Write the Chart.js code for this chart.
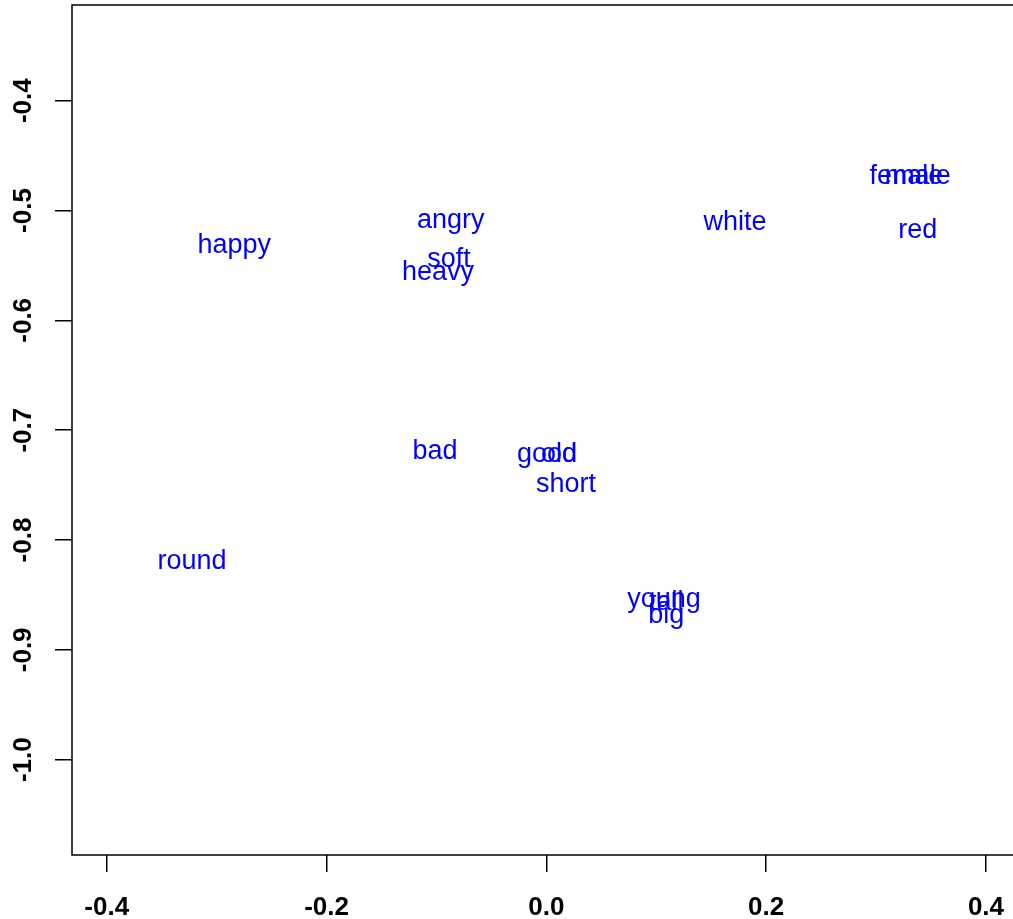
<!DOCTYPE html>
<html>
<head>
<meta charset="utf-8">
<script src="https://cdn.jsdelivr.net/npm/chart.js@4"></script>
<style>
  html, body { margin: 0; padding: 0; background: #fff; }
  #wrap { width: 1013px; height: 919px; }
</style>
</head>
<body>
<div id="wrap"><canvas id="chart"></canvas></div>
<script>
// words and their coordinates
const words = ['happy', 'angry', 'soft', 'heavy', 'white', 'female', 'male', 'red',
               'bad', 'good', 'old', 'short', 'round', 'young', 'tall', 'big'];
const xVals = [-0.284, -0.087, -0.0885, -0.0985, 0.1717, 0.331, 0.3346, 0.338,
               -0.1013, 0.0006, 0.0116, 0.0179, -0.3224, 0.1071, 0.109, 0.109];
const yVals = [-0.530, -0.5076, -0.543, -0.555, -0.509, -0.4675, -0.4675, -0.516,
               -0.718, -0.720, -0.720, -0.748, -0.818, -0.852, -0.855, -0.867];

const xTicks = [-0.4, -0.2, 0.0, 0.2, 0.4];
const yTicks = [-1.0, -0.9, -0.8, -0.7, -0.6, -0.5, -0.4];

const FONT = '"Liberation Sans", Arial, Helvetica, sans-serif';

// text labels at each point + box + rotated y tick labels
const wordPlugin = {
  id: 'words',
  afterDatasetsDraw(chart) {
    const ctx = chart.ctx;
    const xs = chart.scales.x, ys = chart.scales.y;
    ctx.save();
    ctx.fillStyle = '#0000ff';
    ctx.font = '27px ' + FONT;
    ctx.textAlign = 'center';
    ctx.textBaseline = 'middle';
    words.forEach((w, i) => {
      ctx.fillText(w, xs.getPixelForValue(xVals[i]), ys.getPixelForValue(yVals[i]) + 2);
    });
    ctx.restore();
  },
  afterDraw(chart) {
    const ctx = chart.ctx;
    const a = chart.chartArea;
    const ys = chart.scales.y;
    ctx.save();
    ctx.strokeStyle = '#000';
    ctx.lineWidth = 1.5;
    ctx.beginPath();
    ctx.moveTo(a.right + 2, a.top);
    ctx.lineTo(a.left, a.top);
    ctx.lineTo(a.left, a.bottom);
    ctx.lineTo(a.right + 2, a.bottom);
    ctx.stroke();

    ctx.fillStyle = '#000';
    ctx.font = 'bold 26px ' + FONT;
    ctx.textAlign = 'center';
    ctx.textBaseline = 'middle';
    yTicks.forEach(v => {
      ctx.save();
      ctx.translate(24, ys.getPixelForValue(v));
      ctx.rotate(-Math.PI / 2);
      ctx.fillText(v.toFixed(1), 0, 0);
      ctx.restore();
    });
    ctx.restore();
  }
};

new Chart(document.getElementById('chart'), {
  type: 'scatter',
  data: {
    datasets: [{
      data: xVals.map((x, i) => ({ x: x, y: yVals[i] })),
      pointRadius: 0,
      pointHoverRadius: 0
    }]
  },
  options: {
    responsive: true,
    maintainAspectRatio: false,
    animation: false,
    events: [],
    layout: { padding: { top: 5, right: 0, left: 0, bottom: 0 } },
    plugins: { legend: { display: false }, tooltip: { enabled: false } },
    scales: {
      x: {
        type: 'linear',
        min: -0.4316,
        max: 0.4246,
        afterBuildTicks: s => { s.ticks = xTicks.map(v => ({ value: v })); },
        afterFit: s => { s.height = 64; s.paddingLeft = 0; s.paddingRight = 0; },
        border: { display: false },
        grid: { drawOnChartArea: false, drawTicks: true, tickLength: 17, color: '#000', lineWidth: 1.5 },
        ticks: {
          color: '#000',
          font: { family: FONT, size: 26, weight: 'bold' },
          padding: 20,
          maxRotation: 0,
          autoSkip: false,
          callback: v => v.toFixed(1)
        }
      },
      y: {
        type: 'linear',
        min: -1.0868,
        max: -0.3129,
        afterBuildTicks: s => { s.ticks = yTicks.map(v => ({ value: v })); },
        afterFit: s => { s.width = 72; s.paddingTop = 0; s.paddingBottom = 0; },
        border: { display: false },
        grid: { drawOnChartArea: false, drawTicks: true, tickLength: 17, color: '#000', lineWidth: 1.5 },
        ticks: { display: false }
      }
    }
  },
  plugins: [wordPlugin]
});
</script>
</body>
</html>
